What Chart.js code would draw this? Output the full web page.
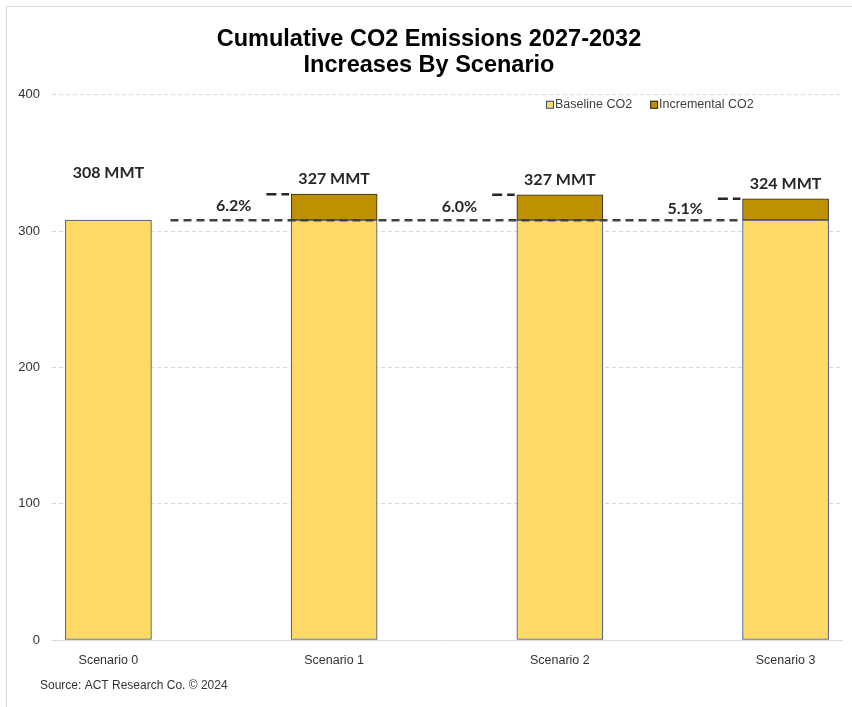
<!DOCTYPE html>
<html>
<head>
<meta charset="utf-8">
<script src="https://cdn.jsdelivr.net/npm/chart.js@4.4.1/dist/chart.umd.min.js"></script>
<style>
  html, body { margin: 0; padding: 0; background: #ffffff; }
  #wrap { position: relative; width: 852px; height: 707px; }
</style>
</head>
<body>
<div id="wrap"><canvas id="c"></canvas></div>
<script>
// Scenario names shown under the bars
const scenarios = ['Scenario 0', 'Scenario 1', 'Scenario 2', 'Scenario 3'];
// Cumulative baseline emissions, million metric tonnes
const baselineCO2 = [308, 308, 308, 308];
// Additional emissions on top of the baseline for each scenario
const incrementalCO2 = [0, 19.1, 18.6, 15.7];
// Value-axis ticks
const yTicks = [0, 100, 200, 300, 400];

const totals = baselineCO2.map((b, i) => b + incrementalCO2[i]);

const DARK = '#262626';
const GRID = '#d9d9d9';

// Dashed reference line at the baseline level running across the scenarios
const baselineRef = {
  type: 'line',
  label: 'baseline-ref',
  data: [{ x: 0.275, y: baselineCO2[0] }, { x: 2.8, y: baselineCO2[0] }],
  borderColor: '#404040',
  borderWidth: 2.5,
  borderDash: [8, 5],
  pointRadius: 0,
  stack: 'ref0',
  order: 0
};

// Short dashed ticks to the left of each raised bar top
const topMarks = [1, 2, 3].map(i => ({
  type: 'line',
  label: 'top-mark-' + i,
  data: [{ x: i - 0.3, y: totals[i] }, { x: i - 0.2, y: totals[i] }],
  borderColor: DARK,
  borderWidth: 2.5,
  borderDash: [10, 5],
  pointRadius: 0,
  stack: 'mark' + i,
  order: 0
}));

// White page with a thin grey frame
const framePlugin = {
  id: 'frame',
  beforeDraw(chart) {
    const ctx = chart.ctx;
    ctx.save();
    ctx.fillStyle = '#ffffff';
    ctx.fillRect(0, 0, chart.width, chart.height);
    ctx.strokeStyle = GRID;
    ctx.lineWidth = 1;
    ctx.beginPath();
    ctx.moveTo(6.5, chart.height + 2);
    ctx.lineTo(6.5, 6.5);
    ctx.lineTo(chart.width + 2, 6.5);
    ctx.stroke();
    ctx.restore();
  }
};

// Legend drawn inside the plot, top right
const innerLegend = {
  id: 'innerLegend',
  afterDraw(chart) {
    const ctx = chart.ctx;
    const area = chart.chartArea;
    const items = chart.data.datasets.filter(d => d.type === 'bar');
    ctx.save();
    ctx.font = '12.5px "Liberation Sans", Arial, sans-serif';
    ctx.textBaseline = 'middle';
    ctx.textAlign = 'left';
    const y = area.top + 10;
    let x = area.left + 494;
    items.forEach(d => {
      ctx.fillStyle = d.backgroundColor;
      ctx.fillRect(x, y - 4, 8, 8);
      ctx.strokeStyle = d.borderColor;
      ctx.lineWidth = 1;
      ctx.strokeRect(x + 0.5, y - 3.5, 7, 7);
      ctx.fillStyle = '#404040';
      ctx.fillText(d.label, x + 9, y);
      x += 9 + ctx.measureText(d.label).width + 18;
    });
    ctx.restore();
  }
};

// Totals above the bars and percentage increases beside them
const valueLabels = {
  id: 'valueLabels',
  afterDatasetsDraw(chart, args, opts) {
    const ctx = chart.ctx;
    const xs = chart.scales.x;
    const ys = chart.scales.y;
    ctx.save();
    ctx.fillStyle = DARK;
    ctx.font = 'bold 16px Lato, "Open Sans", sans-serif';
    ctx.textAlign = 'center';
    ctx.textBaseline = 'middle';
    totals.forEach((t, i) => {
      const px = xs.getPixelForValue(i);
      const py = ys.getPixelForValue(t);
      ctx.fillText(Math.round(t) + ' MMT', px, py - opts.lift[i]);
      if (incrementalCO2[i] > 0) {
        const pct = (incrementalCO2[i] / baselineCO2[i] * 100).toFixed(1) + '%';
        const mid = ys.getPixelForValue((t + baselineCO2[i]) / 2);
        ctx.fillText(pct, xs.getPixelForValue(i - 0.445), mid - 1);
      }
    });
    ctx.restore();
  }
};

// Source note under the axis
const sourceNote = {
  id: 'sourceNote',
  afterDraw(chart) {
    const ctx = chart.ctx;
    const area = chart.chartArea;
    ctx.save();
    ctx.font = '12px "Liberation Sans", Arial, sans-serif';
    ctx.fillStyle = '#333333';
    ctx.textAlign = 'left';
    ctx.textBaseline = 'middle';
    ctx.fillText('Source: ACT Research Co. \u00A9 2024', area.left - 12, area.bottom + 46);
    ctx.restore();
  }
};

Chart.defaults.font.family = '"Liberation Sans", Arial, sans-serif';
Chart.defaults.color = '#404040';

new Chart(document.getElementById('c'), {
  data: {
    datasets: [
      {
        type: 'bar',
        label: 'Baseline CO2',
        data: baselineCO2.map((v, i) => ({ x: i, y: v })),
        backgroundColor: '#FFD966',
        borderColor: '#2F4A8A',
        borderWidth: 1,
        borderSkipped: false,
        barThickness: 86,
        order: 1
      },
      {
        type: 'bar',
        label: 'Incremental CO2',
        data: incrementalCO2.map((v, i) => ({ x: i, y: v })),
        backgroundColor: '#BF9000',
        borderColor: '#262626',
        borderWidth: 1,
        borderSkipped: false,
        barThickness: 86,
        order: 1
      },
      baselineRef,
      ...topMarks
    ]
  },
  options: {
    responsive: true,
    maintainAspectRatio: false,
    animation: false,
    events: [],
    layout: { padding: { left: 16, right: 10, top: 0, bottom: 0 } },
    plugins: {
      legend: { display: false },
      tooltip: { enabled: false },
      title: {
        display: true,
        text: ['Cumulative CO2 Emissions 2027-2032', 'Increases By Scenario'],
        color: '#000000',
        font: { size: 23.5, weight: 'bold', lineHeight: 1.08 },
        padding: { top: 27, bottom: 17 }
      },
      valueLabels: { lift: [47, 15, 15, 15] }
    },
    scales: {
      x: {
        type: 'linear',
        min: -0.25,
        max: 3.25,
        offset: false,
        stacked: true,
        grid: { display: false, drawTicks: false, offset: false },
        border: { display: true, color: GRID, width: 1 },
        afterBuildTicks(scale) {
          scale.ticks = scenarios.map((_, i) => ({ value: i }));
        },
        afterFit(scale) { scale.height = 67; },
        ticks: {
          autoSkip: false,
          maxRotation: 0,
          padding: 13,
          color: '#333333',
          font: { size: 12.5 },
          callback: v => scenarios[v]
        }
      },
      y: {
        type: 'linear',
        stacked: true,
        min: yTicks[0],
        max: yTicks[yTicks.length - 1],
        afterBuildTicks(scale) {
          scale.ticks = yTicks.map(v => ({ value: v }));
        },
        afterFit(scale) { scale.width = 36; },
        grid: {
          drawTicks: false,
          color: ctx => (ctx.tick && ctx.tick.value === 0 ? 'rgba(0,0,0,0)' : GRID),
          lineWidth: 1
        },
        border: { display: false, dash: [4, 3] },
        ticks: {
          padding: 12,
          color: '#333333',
          font: { size: 13 }
        }
      }
    }
  },
  plugins: [framePlugin, innerLegend, valueLabels, sourceNote]
});
</script>
</body>
</html>
